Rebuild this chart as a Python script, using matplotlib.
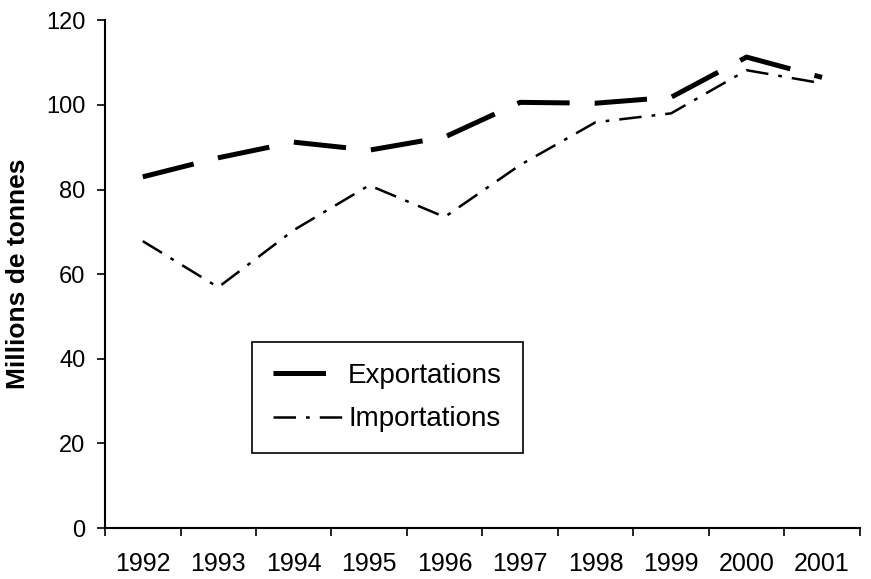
import numpy as np
import matplotlib
matplotlib.use("Agg")
import matplotlib.pyplot as plt

# Exportations / importations, millions de tonnes
years = ["1992", "1993", "1994", "1995", "1996", "1997", "1998", "1999", "2000", "2001"]
exportations = [83, 87.5, 91.2, 89.3, 92.4, 100.6, 100.4, 101.8, 111.3, 106.5]
importations = [67.8, 56.9, 70.4, 81, 73.5, 85.8, 95.9, 98, 108.2, 105.1]
y_ticks = [0, 20, 40, 60, 80, 100, 120]

plt.rcParams['font.family'] = ['Liberation Sans', 'DejaVu Sans']

fig = plt.figure(figsize=(8.71, 5.79), dpi=100)
ax = fig.add_axes([0.1206, 0.088, 0.8665, 0.877])

x = np.arange(len(years))
ax.plot(x, exportations, color='black', lw=3.6, dashes=(10.5, 5),
        solid_capstyle='butt', dash_capstyle='butt', label='Exportations')
ax.plot(x, importations, color='black', lw=1.8, dashes=(9, 4, 1.5, 4),
        dash_capstyle='butt', label='Importations')

ax.set_xlim(-0.5, len(years) - 0.5)
ax.set_ylim(0, 120)
ax.set_yticks(y_ticks)
ax.tick_params(axis='y', labelsize=17, length=6, width=1.2, pad=8)

# category labels centred, tick marks on the boundaries
ax.set_xticks(x)
ax.set_xticklabels(years)
ax.set_xticks(np.arange(len(years) + 1) - 0.5, minor=True)
ax.tick_params(axis='x', which='major', length=0, labelsize=18, pad=17)
ax.tick_params(axis='x', which='minor', length=6, width=1.2)

for side in ['top', 'right']:
    ax.spines[side].set_visible(False)
for side in ['left', 'bottom']:
    ax.spines[side].set_linewidth(1.5)

ax.set_ylabel("Millions de tonnes", fontsize=19, fontweight='bold', labelpad=12)

leg = ax.legend(loc='upper left', bbox_to_anchor=(0.195, 0.366), borderaxespad=0,
                fontsize=20, handlelength=2.6, handletextpad=0.1,
                labelspacing=0.62, borderpad=0.75, fancybox=False, framealpha=1)
leg.get_frame().set_edgecolor('black')
leg.get_frame().set_linewidth(1.2)

fig.savefig("out.png", dpi=100)
